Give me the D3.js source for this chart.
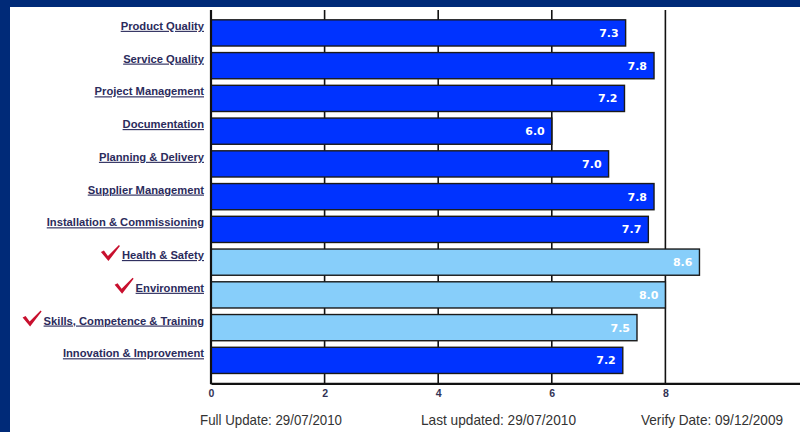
<!DOCTYPE html>
<html>
<head>
<meta charset="utf-8">
<script src="https://cdn.jsdelivr.net/npm/d3@7"></script>
<style>
  html, body { margin: 0; padding: 0; background: #ffffff; }
  svg { display: block; }
</style>
</head>
<body>
<div id="chart"></div>
<script>
// datos del grafico
var categorias = ["Product Quality", "Service Quality", "Project Management", "Documentation",
    "Planning & Delivery", "Supplier Management", "Installation & Commissioning",
    "Health & Safety", "Environment", "Skills, Competence & Training", "Innovation & Improvement"];
var valores = [7.3, 7.8, 7.28, 6.0, 7.0, 7.8, 7.7, 8.6, 8.0, 7.5, 7.25];
var verificados = [false, false, false, false, false, false, false, true, true, true, false];
var ticksX = [0, 2, 4, 6, 8];
var pieTextos = ["Full Update: 29/07/2010", "Last updated: 29/07/2010", "Verify Date: 09/12/2009"];

function dibujar() {
    var w = 800, h = 432;
    var palette = {
        navy: "#002a78",
        azul: "#0033ff",
        celeste: "#87cefa",
        borde: "#1a1a1a",
        etiqueta: "#2b2b5c",
        rojo: "#c8102e"
    };

    var svg = d3.select("#chart").append("svg")
        .attr("width", w)
        .attr("height", h);

    svg.append("rect").attr("x", 0).attr("y", 0).attr("width", w).attr("height", h).attr("fill", "#ffffff");
    // marco azul
    svg.append("rect").attr("x", 0).attr("y", 0).attr("width", w).attr("height", 7).attr("fill", palette.navy);
    svg.append("rect").attr("x", 0).attr("y", 0).attr("width", 10).attr("height", h).attr("fill", palette.navy);

    var arriba = 10, abajo = 383.3;
    var x = d3.scaleLinear().domain([0, 10.37]).range([211, 800]);
    var y = d3.scaleBand().domain(categorias).range([arriba, abajo]).paddingInner(0.2).paddingOuter(0.3);

    // lineas de rejilla
    svg.selectAll(".grid")
        .data(ticksX.slice(1))
        .enter().append("line")
        .attr("x1", function(d) { return x(d); })
        .attr("x2", function(d) { return x(d); })
        .attr("y1", arriba)
        .attr("y2", abajo)
        .attr("stroke", "#111")
        .attr("stroke-width", 1.6);

    // barras
    svg.selectAll(".bar")
        .data(valores)
        .enter().append("rect")
        .attr("x", x(0))
        .attr("y", function(d, i) { return y(categorias[i]); })
        .attr("width", function(d) { return x(d) - x(0); })
        .attr("height", y.bandwidth())
        .attr("fill", function(d, i) { return verificados[i] ? palette.celeste : palette.azul; })
        .attr("stroke", palette.borde)
        .attr("stroke-width", 1.4);

    // valores dentro de las barras (truncados a un decimal)
    svg.selectAll(".valor")
        .data(valores)
        .enter().append("text")
        .text(function(d) { return (Math.floor(d * 10 + 1e-6) / 10).toFixed(1); })
        .attr("x", function(d) { return x(d) - 7; })
        .attr("y", function(d, i) { return y(categorias[i]) + y.bandwidth() / 2 + 4; })
        .attr("text-anchor", "end")
        .attr("font-family", "DejaVu Sans")
        .attr("font-weight", "bold")
        .attr("font-size", "11px")
        .attr("fill", "#ffffff");

    // ejes
    var ejeX = d3.axisBottom(x).tickValues(ticksX).tickSize(0).tickPadding(6);
    var gx = svg.append("g").attr("transform", "translate(0," + abajo + ")").call(ejeX);
    gx.select(".domain").attr("stroke", "#111").attr("stroke-width", 2.2);
    gx.selectAll("text")
        .attr("font-family", "Liberation Sans")
        .attr("font-weight", "bold")
        .attr("font-size", "10.5px")
        .attr("fill", "#333355");

    svg.append("line")
        .attr("x1", x(0)).attr("x2", x(0))
        .attr("y1", arriba).attr("y2", abajo + 1)
        .attr("stroke", "#111")
        .attr("stroke-width", 2.2);

    // etiquetas de categorias
    var etiquetas = svg.selectAll(".etiqueta")
        .data(categorias)
        .enter().append("text")
        .text(function(d) { return d; })
        .attr("x", 204)
        .attr("y", function(d) { return y(d) + 10; })
        .attr("text-anchor", "end")
        .attr("font-family", "Liberation Sans")
        .attr("font-weight", "bold")
        .attr("font-size", "11.2px")
        .attr("text-decoration", "underline")
        .attr("fill", palette.etiqueta);

    // marcas de verificacion
    etiquetas.each(function(d, i) {
        if (!verificados[i]) return;
        var ancho = this.getComputedTextLength();
        var x0 = 204 - ancho - 21;
        var y0 = y(d) - 4;
        svg.append("path")
            .attr("d", "M0,7 L3,5.5 L7,11 L18,0 L19,1 L7.5,16 Z")
            .attr("transform", "translate(" + x0 + "," + y0 + ")")
            .attr("fill", palette.rojo);
    });

    // pie
    var pieX = [200, 421, 641];
    var pieAncho = [142, 155, 142];
    svg.selectAll(".pie")
        .data(pieTextos)
        .enter().append("text")
        .text(function(d) { return d; })
        .attr("x", function(d, i) { return pieX[i]; })
        .attr("y", 425)
        .attr("font-family", "Liberation Sans")
        .attr("font-size", "14.5px")
        .attr("textLength", function(d, i) { return pieAncho[i]; })
        .attr("lengthAdjust", "spacingAndGlyphs")
        .attr("fill", "#333333");
}

dibujar();
</script>
</body>
</html>
